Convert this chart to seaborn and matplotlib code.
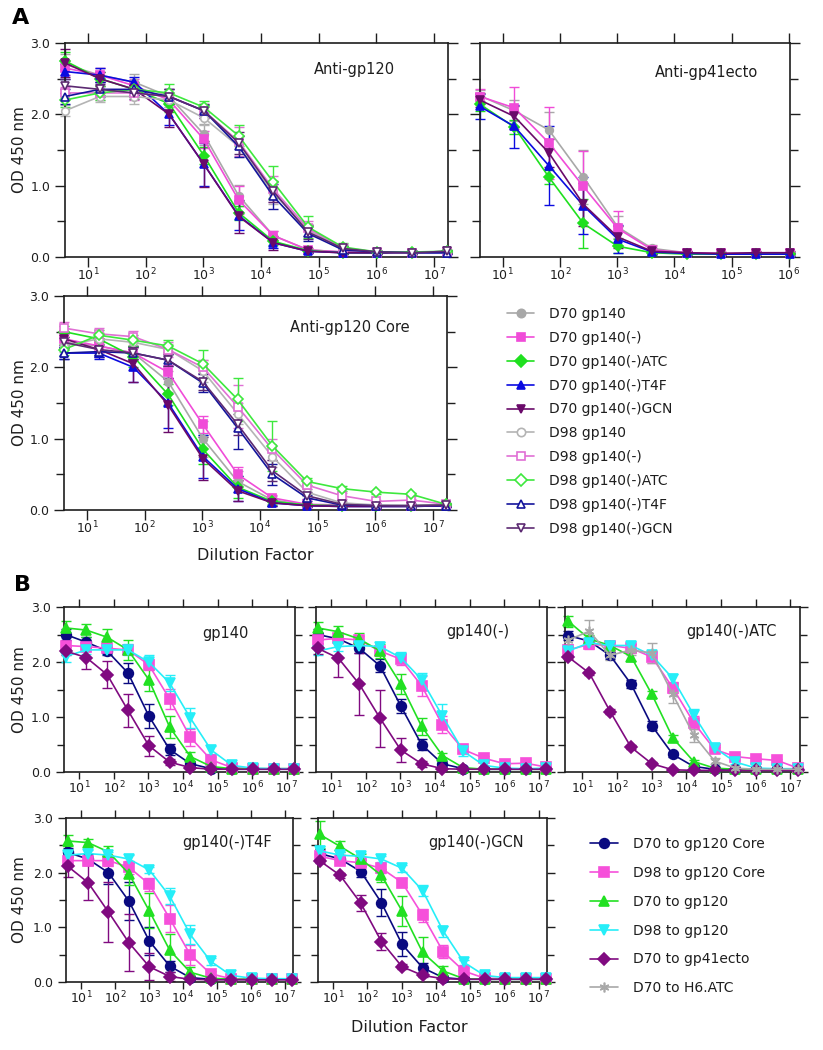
import matplotlib.pyplot as plt
import seaborn as sns
from matplotlib.lines import Line2D
from matplotlib.ticker import (FixedLocator, FormatStrFormatter, LogFormatterSciNotation,
                               MultipleLocator, NullLocator)

# dilution factors (4-fold series)
DILUTION = [4, 16, 64, 256, 1024, 4096, 16384, 65536, 262144, 1048576, 4194304, 16777216]
DILUTION_GP41 = [4, 16, 64, 256, 1024, 4096, 16384, 65536, 262144, 1048576]
DECADES = [1e1, 1e2, 1e3, 1e4, 1e5, 1e6, 1e7]
DECADES_GP41 = [1e1, 1e2, 1e3, 1e4, 1e5, 1e6]

# ---- panel A series ----
A_LABELS = ["D70 gp140", "D70 gp140(-)", "D70 gp140(-)ATC", "D70 gp140(-)T4F", "D70 gp140(-)GCN",
            "D98 gp140", "D98 gp140(-)", "D98 gp140(-)ATC", "D98 gp140(-)T4F", "D98 gp140(-)GCN"]
A_COLORS = ["#a8a8a8", "#f04cd8", "#1fe01f", "#0b0be0", "#6a0a6a",
            "#b4b4b4", "#e070d4", "#3ee83e", "#14149c", "#5c2a72"]
A_MARKERS = ["o", "s", "D", "^", "v", "o", "s", "D", "^", "v"]
A_FILLED = [True, True, True, True, True, False, False, False, False, False]

ANTI_GP120 = {
    "D70 gp140":       [2.70, 2.55, 2.45, 2.25, 1.72, 0.86, 0.30, 0.10, 0.07, 0.06, 0.06, 0.07],
    "D70 gp140(-)":    [2.65, 2.55, 2.40, 2.20, 1.65, 0.80, 0.30, 0.10, 0.07, 0.06, 0.06, 0.07],
    "D70 gp140(-)ATC": [2.75, 2.50, 2.35, 2.15, 1.42, 0.62, 0.22, 0.09, 0.06, 0.06, 0.06, 0.07],
    "D70 gp140(-)T4F": [2.60, 2.55, 2.45, 2.00, 1.30, 0.58, 0.20, 0.08, 0.06, 0.06, 0.06, 0.06],
    "D70 gp140(-)GCN": [2.72, 2.50, 2.35, 2.00, 1.30, 0.57, 0.20, 0.08, 0.06, 0.06, 0.06, 0.08],
    "D98 gp140":       [2.05, 2.25, 2.25, 2.20, 1.95, 1.55, 0.90, 0.38, 0.12, 0.07, 0.06, 0.07],
    "D98 gp140(-)":    [2.30, 2.30, 2.30, 2.25, 2.05, 1.62, 0.95, 0.40, 0.13, 0.07, 0.06, 0.07],
    "D98 gp140(-)ATC": [2.20, 2.30, 2.35, 2.30, 2.10, 1.70, 1.05, 0.42, 0.14, 0.07, 0.07, 0.08],
    "D98 gp140(-)T4F": [2.25, 2.35, 2.35, 2.25, 2.05, 1.55, 0.85, 0.33, 0.10, 0.07, 0.06, 0.06],
    "D98 gp140(-)GCN": [2.40, 2.35, 2.30, 2.25, 2.05, 1.60, 0.92, 0.35, 0.12, 0.07, 0.06, 0.08],
}
ANTI_GP120_ERR = {
    "D70 gp140":       [0.15, 0.10, 0.12, 0.10, 0.15, 0.15, 0.06, 0.03, 0.02, 0.02, 0.02, 0.02],
    "D70 gp140(-)":    [0.10, 0.10, 0.10, 0.10, 0.12, 0.20, 0.06, 0.03, 0.02, 0.02, 0.02, 0.02],
    "D70 gp140(-)ATC": [0.12, 0.10, 0.10, 0.12, 0.12, 0.10, 0.05, 0.02, 0.02, 0.02, 0.02, 0.02],
    "D70 gp140(-)T4F": [0.10, 0.10, 0.08, 0.15, 0.30, 0.20, 0.08, 0.02, 0.02, 0.02, 0.02, 0.02],
    "D70 gp140(-)GCN": [0.20, 0.10, 0.08, 0.18, 0.32, 0.23, 0.10, 0.02, 0.02, 0.02, 0.02, 0.02],
    "D98 gp140":       [0.08, 0.08, 0.10, 0.10, 0.10, 0.15, 0.15, 0.08, 0.05, 0.02, 0.02, 0.02],
    "D98 gp140(-)":    [0.08, 0.10, 0.10, 0.10, 0.10, 0.20, 0.18, 0.10, 0.05, 0.02, 0.02, 0.02],
    "D98 gp140(-)ATC": [0.10, 0.10, 0.10, 0.12, 0.08, 0.15, 0.22, 0.15, 0.05, 0.02, 0.02, 0.02],
    "D98 gp140(-)T4F": [0.10, 0.10, 0.08, 0.10, 0.08, 0.15, 0.18, 0.10, 0.05, 0.02, 0.02, 0.02],
    "D98 gp140(-)GCN": [0.10, 0.08, 0.08, 0.10, 0.10, 0.15, 0.15, 0.10, 0.04, 0.02, 0.02, 0.02],
}

ANTI_GP41 = {
    "D70 gp140":       [2.26, 2.05, 1.78, 1.12, 0.42, 0.12, 0.06, 0.05, 0.05, 0.05],
    "D70 gp140(-)":    [2.25, 2.09, 1.60, 0.99, 0.40, 0.10, 0.06, 0.05, 0.05, 0.05],
    "D70 gp140(-)ATC": [2.14, 1.82, 1.12, 0.47, 0.15, 0.06, 0.04, 0.04, 0.04, 0.04],
    "D70 gp140(-)T4F": [2.11, 1.83, 1.28, 0.72, 0.25, 0.07, 0.05, 0.04, 0.04, 0.04],
    "D70 gp140(-)GCN": [2.20, 1.97, 1.46, 0.74, 0.28, 0.08, 0.06, 0.05, 0.06, 0.06],
}
ANTI_GP41_ERR = {
    "D70 gp140":       [0.08, 0.15, 0.25, 0.38, 0.15, 0.05, 0.02, 0.02, 0.02, 0.02],
    "D70 gp140(-)":    [0.10, 0.30, 0.50, 0.50, 0.25, 0.05, 0.02, 0.02, 0.02, 0.02],
    "D70 gp140(-)ATC": [0.10, 0.10, 0.10, 0.35, 0.10, 0.03, 0.02, 0.02, 0.02, 0.02],
    "D70 gp140(-)T4F": [0.17, 0.30, 0.55, 0.40, 0.20, 0.03, 0.02, 0.02, 0.02, 0.02],
    "D70 gp140(-)GCN": [0.10, 0.15, 0.20, 0.30, 0.15, 0.04, 0.02, 0.02, 0.02, 0.02],
}

ANTI_CORE = {
    "D70 gp140":       [2.35, 2.30, 2.20, 1.80, 1.00, 0.40, 0.14, 0.07, 0.06, 0.06, 0.06, 0.07],
    "D70 gp140(-)":    [2.40, 2.30, 2.20, 1.93, 1.20, 0.50, 0.17, 0.08, 0.07, 0.06, 0.06, 0.07],
    "D70 gp140(-)ATC": [2.50, 2.40, 2.15, 1.62, 0.85, 0.32, 0.12, 0.07, 0.06, 0.06, 0.06, 0.07],
    "D70 gp140(-)T4F": [2.20, 2.20, 2.00, 1.50, 0.75, 0.30, 0.10, 0.06, 0.05, 0.05, 0.05, 0.06],
    "D70 gp140(-)GCN": [2.40, 2.25, 2.05, 1.47, 0.72, 0.27, 0.10, 0.06, 0.05, 0.05, 0.05, 0.06],
    "D98 gp140":       [2.30, 2.40, 2.35, 2.25, 1.95, 1.35, 0.75, 0.25, 0.10, 0.07, 0.06, 0.07],
    "D98 gp140(-)":    [2.55, 2.47, 2.43, 2.25, 2.00, 1.45, 0.85, 0.35, 0.20, 0.12, 0.14, 0.08],
    "D98 gp140(-)ATC": [2.25, 2.45, 2.38, 2.30, 2.05, 1.55, 0.90, 0.40, 0.30, 0.25, 0.22, 0.08],
    "D98 gp140(-)T4F": [2.20, 2.22, 2.20, 2.10, 1.78, 1.15, 0.50, 0.17, 0.07, 0.06, 0.06, 0.06],
    "D98 gp140(-)GCN": [2.35, 2.25, 2.20, 2.10, 1.80, 1.20, 0.55, 0.20, 0.08, 0.06, 0.06, 0.07],
}
ANTI_CORE_ERR = {
    "D70 gp140":       [0.08, 0.10, 0.10, 0.15, 0.25, 0.15, 0.05, 0.02, 0.02, 0.02, 0.02, 0.02],
    "D70 gp140(-)":    [0.08, 0.08, 0.10, 0.10, 0.12, 0.10, 0.04, 0.02, 0.02, 0.02, 0.02, 0.02],
    "D70 gp140(-)ATC": [0.08, 0.08, 0.15, 0.15, 0.20, 0.15, 0.05, 0.02, 0.02, 0.02, 0.02, 0.02],
    "D70 gp140(-)T4F": [0.08, 0.08, 0.20, 0.35, 0.30, 0.18, 0.05, 0.02, 0.02, 0.02, 0.02, 0.02],
    "D70 gp140(-)GCN": [0.08, 0.10, 0.25, 0.38, 0.30, 0.15, 0.04, 0.02, 0.02, 0.02, 0.02, 0.02],
    "D98 gp140":       [0.08, 0.08, 0.08, 0.08, 0.15, 0.15, 0.15, 0.05, 0.02, 0.02, 0.02, 0.02],
    "D98 gp140(-)":    [0.08, 0.08, 0.08, 0.10, 0.10, 0.30, 0.15, 0.06, 0.04, 0.02, 0.02, 0.02],
    "D98 gp140(-)ATC": [0.08, 0.08, 0.08, 0.08, 0.20, 0.30, 0.35, 0.05, 0.04, 0.02, 0.02, 0.02],
    "D98 gp140(-)T4F": [0.08, 0.08, 0.08, 0.08, 0.12, 0.30, 0.15, 0.04, 0.02, 0.02, 0.02, 0.02],
    "D98 gp140(-)GCN": [0.08, 0.08, 0.08, 0.08, 0.12, 0.15, 0.15, 0.05, 0.02, 0.02, 0.02, 0.02],
}

# ---- panel B series ----
B_LABELS = ["D70 to gp120 Core", "D98 to gp120 Core", "D70 to gp120",
            "D98 to gp120", "D70 to gp41ecto", "D70 to H6.ATC"]
B_COLORS = ["#0a0a80", "#f650da", "#22e022", "#26eef8", "#800a80", "#a8a8a8"]
B_MARKERS = ["o", "s", "^", "v", "D", (6, 2, 0)]
B_TITLES = ["gp140", "gp140(-)", "gp140(-)ATC", "gp140(-)T4F", "gp140(-)GCN"]

B_GP140 = {
    "D70 to gp120 Core": [2.50, 2.36, 2.20, 1.80, 1.02, 0.41, 0.15, 0.06, 0.05, 0.05, 0.05, 0.05],
    "D98 to gp120 Core": [2.30, 2.28, 2.25, 2.22, 1.95, 1.33, 0.63, 0.22, 0.08, 0.06, 0.06, 0.06],
    "D70 to gp120":      [2.62, 2.58, 2.45, 2.22, 1.68, 0.82, 0.28, 0.10, 0.06, 0.06, 0.06, 0.06],
    "D98 to gp120":      [2.10, 2.22, 2.22, 2.22, 2.00, 1.62, 0.98, 0.40, 0.12, 0.07, 0.06, 0.06],
    "D70 to gp41ecto":   [2.20, 2.08, 1.77, 1.12, 0.48, 0.18, 0.08, 0.05, 0.05, 0.05, 0.05, 0.05],
}
B_GP140_ERR = {
    "D70 to gp120 Core": [0.10, 0.10, 0.08, 0.18, 0.22, 0.10, 0.05, 0.02, 0.02, 0.02, 0.02, 0.02],
    "D98 to gp120 Core": [0.08, 0.08, 0.08, 0.08, 0.10, 0.18, 0.15, 0.05, 0.02, 0.02, 0.02, 0.02],
    "D70 to gp120":      [0.12, 0.12, 0.15, 0.18, 0.20, 0.20, 0.08, 0.03, 0.02, 0.02, 0.02, 0.02],
    "D98 to gp120":      [0.10, 0.08, 0.08, 0.10, 0.12, 0.15, 0.18, 0.08, 0.04, 0.02, 0.02, 0.02],
    "D70 to gp41ecto":   [0.08, 0.20, 0.25, 0.30, 0.18, 0.05, 0.02, 0.02, 0.02, 0.02, 0.02, 0.02],
}

B_GP140M = {
    "D70 to gp120 Core": [2.50, 2.42, 2.25, 1.93, 1.20, 0.50, 0.15, 0.06, 0.05, 0.05, 0.05, 0.05],
    "D98 to gp120 Core": [2.40, 2.43, 2.40, 2.20, 2.05, 1.57, 0.86, 0.41, 0.25, 0.15, 0.16, 0.09],
    "D70 to gp120":      [2.62, 2.55, 2.42, 2.20, 1.60, 0.83, 0.30, 0.08, 0.05, 0.05, 0.05, 0.05],
    "D98 to gp120":      [2.20, 2.28, 2.30, 2.28, 2.08, 1.68, 1.02, 0.38, 0.12, 0.07, 0.06, 0.07],
    "D70 to gp41ecto":   [2.25, 2.07, 1.60, 0.98, 0.40, 0.15, 0.06, 0.05, 0.05, 0.05, 0.05, 0.05],
}
B_GP140M_ERR = {
    "D70 to gp120 Core": [0.10, 0.08, 0.08, 0.12, 0.12, 0.10, 0.05, 0.02, 0.02, 0.02, 0.02, 0.02],
    "D98 to gp120 Core": [0.08, 0.08, 0.08, 0.08, 0.10, 0.18, 0.15, 0.06, 0.04, 0.02, 0.02, 0.02],
    "D70 to gp120":      [0.10, 0.10, 0.10, 0.12, 0.18, 0.15, 0.05, 0.02, 0.02, 0.02, 0.02, 0.02],
    "D98 to gp120":      [0.08, 0.08, 0.08, 0.08, 0.10, 0.12, 0.22, 0.08, 0.04, 0.02, 0.02, 0.02],
    "D70 to gp41ecto":   [0.10, 0.35, 0.57, 0.52, 0.22, 0.05, 0.02, 0.02, 0.02, 0.02, 0.02, 0.02],
}

B_ATC = {
    "D70 to gp120 Core": [2.48, 2.38, 2.12, 1.60, 0.84, 0.32, 0.10, 0.05, 0.05, 0.05, 0.05, 0.05],
    "D98 to gp120 Core": [2.22, 2.32, 2.30, 2.25, 2.09, 1.53, 0.90, 0.41, 0.28, 0.24, 0.21, 0.07],
    "D70 to gp120":      [2.74, 2.42, 2.30, 2.10, 1.41, 0.62, 0.19, 0.07, 0.05, 0.05, 0.05, 0.05],
    "D98 to gp120":      [2.20, 2.35, 2.30, 2.30, 2.12, 1.70, 1.04, 0.44, 0.18, 0.07, 0.06, 0.06],
    "D70 to gp41ecto":   [2.09, 1.80, 1.10, 0.45, 0.15, 0.04, 0.03, 0.03, 0.03, 0.03, 0.03, 0.03],
    "D70 to H6.ATC":     [2.40, 2.56, 2.12, 2.22, 2.16, 1.41, 0.67, 0.20, 0.07, 0.05, 0.05, 0.05],
}
B_ATC_ERR = {
    "D70 to gp120 Core": [0.08, 0.06, 0.06, 0.08, 0.08, 0.05, 0.03, 0.02, 0.02, 0.02, 0.02, 0.02],
    "D98 to gp120 Core": [0.08, 0.08, 0.06, 0.08, 0.10, 0.10, 0.12, 0.05, 0.04, 0.02, 0.02, 0.02],
    "D70 to gp120":      [0.10, 0.08, 0.06, 0.08, 0.06, 0.05, 0.03, 0.02, 0.02, 0.02, 0.02, 0.02],
    "D98 to gp120":      [0.08, 0.08, 0.06, 0.08, 0.08, 0.08, 0.10, 0.05, 0.03, 0.02, 0.02, 0.02],
    "D70 to gp41ecto":   [0.04, 0.04, 0.04, 0.04, 0.03, 0.02, 0.02, 0.02, 0.02, 0.02, 0.02, 0.02],
    "D70 to H6.ATC":     [0.08, 0.20, 0.08, 0.10, 0.18, 0.15, 0.12, 0.05, 0.03, 0.02, 0.02, 0.02],
}

B_T4F = {
    "D70 to gp120 Core": [2.37, 2.25, 2.00, 1.48, 0.75, 0.29, 0.08, 0.05, 0.05, 0.05, 0.05, 0.05],
    "D98 to gp120 Core": [2.22, 2.22, 2.22, 2.10, 1.79, 1.16, 0.50, 0.15, 0.06, 0.05, 0.05, 0.05],
    "D70 to gp120":      [2.58, 2.55, 2.38, 1.98, 1.30, 0.58, 0.18, 0.07, 0.05, 0.05, 0.05, 0.05],
    "D98 to gp120":      [2.32, 2.35, 2.32, 2.25, 2.05, 1.57, 0.87, 0.38, 0.12, 0.07, 0.06, 0.06],
    "D70 to gp41ecto":   [2.12, 1.82, 1.28, 0.72, 0.28, 0.10, 0.05, 0.04, 0.04, 0.04, 0.04, 0.04],
}
B_T4F_ERR = {
    "D70 to gp120 Core": [0.08, 0.10, 0.20, 0.35, 0.25, 0.10, 0.03, 0.02, 0.02, 0.02, 0.02, 0.02],
    "D98 to gp120 Core": [0.08, 0.08, 0.10, 0.12, 0.12, 0.25, 0.18, 0.05, 0.02, 0.02, 0.02, 0.02],
    "D70 to gp120":      [0.10, 0.06, 0.10, 0.20, 0.32, 0.30, 0.10, 0.03, 0.02, 0.02, 0.02, 0.02],
    "D98 to gp120":      [0.08, 0.06, 0.06, 0.08, 0.06, 0.15, 0.18, 0.06, 0.03, 0.02, 0.02, 0.02],
    "D70 to gp41ecto":   [0.20, 0.32, 0.55, 0.52, 0.25, 0.08, 0.02, 0.02, 0.02, 0.02, 0.02, 0.02],
}

B_GCN = {
    "D70 to gp120 Core": [2.35, 2.25, 2.02, 1.45, 0.69, 0.26, 0.08, 0.05, 0.05, 0.05, 0.05, 0.05],
    "D98 to gp120 Core": [2.30, 2.22, 2.18, 2.08, 1.82, 1.22, 0.55, 0.20, 0.07, 0.06, 0.06, 0.06],
    "D70 to gp120":      [2.70, 2.48, 2.25, 1.95, 1.30, 0.54, 0.20, 0.06, 0.05, 0.05, 0.05, 0.05],
    "D98 to gp120":      [2.40, 2.32, 2.30, 2.25, 2.08, 1.67, 0.93, 0.36, 0.12, 0.08, 0.08, 0.08],
    "D70 to gp41ecto":   [2.22, 1.95, 1.44, 0.74, 0.28, 0.12, 0.06, 0.05, 0.05, 0.05, 0.05, 0.05],
}
B_GCN_ERR = {
    "D70 to gp120 Core": [0.08, 0.08, 0.10, 0.25, 0.22, 0.08, 0.03, 0.02, 0.02, 0.02, 0.02, 0.02],
    "D98 to gp120 Core": [0.08, 0.06, 0.06, 0.08, 0.08, 0.12, 0.12, 0.05, 0.02, 0.02, 0.02, 0.02],
    "D70 to gp120":      [0.25, 0.10, 0.10, 0.12, 0.28, 0.28, 0.10, 0.03, 0.02, 0.02, 0.02, 0.02],
    "D98 to gp120":      [0.08, 0.06, 0.06, 0.06, 0.06, 0.10, 0.10, 0.05, 0.03, 0.02, 0.02, 0.02],
    "D70 to gp41ecto":   [0.05, 0.05, 0.15, 0.15, 0.05, 0.03, 0.02, 0.02, 0.02, 0.02, 0.02, 0.02],
}

INK = "#1e1e1e"


def style_axis(ax, xlim, decades, show_ylabels, major_len, bottom_len, pad):
    ax.set_xscale("log")
    ax.set_xlim(*xlim)
    ax.set_ylim(0, 3.0)
    ax.xaxis.set_major_locator(FixedLocator(decades))
    ax.xaxis.set_major_formatter(LogFormatterSciNotation())
    ax.xaxis.set_minor_locator(NullLocator())
    ax.yaxis.set_major_locator(MultipleLocator(1.0))
    ax.yaxis.set_minor_locator(MultipleLocator(0.5))
    ax.yaxis.set_major_formatter(FormatStrFormatter("%.1f"))
    ax.tick_params(axis="both", which="both", direction="out", top=True, right=True,
                   labelsize=9, width=1.0, color=INK, labelcolor=INK)
    ax.tick_params(axis="both", which="major", length=major_len)
    ax.tick_params(axis="y", which="minor", length=major_len - 1)
    ax.tick_params(axis="x", which="major", length=bottom_len, pad=pad)
    ax.tick_params(axis="y", labelleft=show_ylabels)
    # top ticks are a little longer than the bottom ones
    for tick in ax.xaxis.get_major_ticks():
        tick.tick2line.set_markersize(major_len)
    ax.set_xlabel("")
    ax.set_ylabel("")
    for spine in ax.spines.values():
        spine.set_visible(True)
        spine.set_linewidth(1.2)
        spine.set_color(INK)


def draw_series(ax, x, y, err, color, marker, filled, ms):
    ax.errorbar(x, y, yerr=err, fmt="none", ecolor=color, elinewidth=1.0,
                capsize=3.5, capthick=1.0, zorder=2, clip_on=False)
    sns.lineplot(x=x, y=y, ax=ax, color=color, marker=marker, markersize=ms,
                 markerfacecolor=color if filled else "white", markeredgecolor=color,
                 markeredgewidth=1.2, linewidth=1.2, legend=False, zorder=3, clip_on=False)


def main() -> None:
    sns.set_theme(style="ticks")
    plt.rcParams["font.family"] = ["DejaVu Sans"]
    plt.rcParams["mathtext.fontset"] = "dejavusans"

    W, H = 823, 1050
    fig = plt.figure(figsize=(W / 100, H / 100), dpi=100)

    def box(x0, x1, y0, y1):
        return [x0 / W, 1 - y1 / H, (x1 - x0) / W, (y1 - y0) / H]

    # ---------------- panel A ----------------
    a_panels = [
        (box(65, 448, 43, 257), ANTI_GP120, ANTI_GP120_ERR, DILUTION, (4.0, 1.75e7), DECADES,
         True, "Anti-gp120", (0.755, 0.875)),
        (box(480, 790, 43, 257), ANTI_GP41, ANTI_GP41_ERR, DILUTION_GP41, (4.0, 1.05e6),
         DECADES_GP41, False, "Anti-gp41ecto", (0.73, 0.86)),
        (box(64, 447, 296, 510), ANTI_CORE, ANTI_CORE_ERR, DILUTION, (4.0, 1.75e7), DECADES,
         True, "Anti-gp120 Core", (0.745, 0.855)),
    ]
    for rect, values, errors, xs, xlim, decades, labels, title, tpos in a_panels:
        ax = fig.add_axes(rect)
        for label, color, marker, filled in zip(A_LABELS, A_COLORS, A_MARKERS, A_FILLED):
            if label in values:
                draw_series(ax, xs, values[label], errors[label], color, marker, filled, 5.5)
        style_axis(ax, xlim, decades, labels, major_len=7, bottom_len=7, pad=0)
        ax.text(tpos[0], tpos[1], title, transform=ax.transAxes, ha="center", va="center",
                fontsize=10.5, color=INK)

    a_handles = [
        Line2D([0], [0], color=c, marker=m, markersize=6, lw=1.2, markeredgewidth=1.2,
               markerfacecolor=c if f else "white", markeredgecolor=c)
        for c, m, f in zip(A_COLORS, A_MARKERS, A_FILLED)
    ]
    fig.legend(a_handles, A_LABELS, loc="upper left", bbox_to_anchor=(507 / W, 1 - 307 / H),
               frameon=False, fontsize=10, handlelength=1.95, handletextpad=1.1,
               labelspacing=0.71, borderpad=0, borderaxespad=0, labelcolor=INK)

    # ---------------- panel B ----------------
    b_panels = [
        (box(64, 295, 607, 772), B_GP140, B_GP140_ERR, (3.6, 1.75e7), True, (0.70, 0.84)),
        (box(316, 547, 607, 772), B_GP140M, B_GP140M_ERR, (3.6, 1.75e7), False, (0.70, 0.85)),
        (box(565, 800, 607, 772), B_ATC, B_ATC_ERR, (3.2, 1.9e7), False, (0.71, 0.85)),
        (box(66, 293, 818, 982), B_T4F, B_T4F_ERR, (3.6, 1.75e7), True, (0.71, 0.85)),
        (box(318, 547, 818, 982), B_GCN, B_GCN_ERR, (3.6, 1.75e7), False, (0.69, 0.85)),
    ]
    for (rect, values, errors, xlim, labels, tpos), title in zip(b_panels, B_TITLES):
        ax = fig.add_axes(rect)
        for label, color, marker in zip(B_LABELS, B_COLORS, B_MARKERS):
            if label in values:
                ms = 6.0 if marker == "D" else 7.0
                draw_series(ax, DILUTION, values[label], errors[label], color, marker, True, ms)
        style_axis(ax, xlim, DECADES, labels, major_len=6, bottom_len=5, pad=0.5)
        ax.text(tpos[0], tpos[1], title, transform=ax.transAxes, ha="center", va="center",
                fontsize=10.5, color=INK)

    b_handles = [
        Line2D([0], [0], color=c, marker=m, markersize=7 if m != "D" else 6, lw=1.2,
               markeredgewidth=1.2, markerfacecolor=c, markeredgecolor=c)
        for c, m in zip(B_COLORS, B_MARKERS)
    ]
    fig.legend(b_handles, B_LABELS, loc="upper left", bbox_to_anchor=(590 / W, 1 - 837 / H),
               frameon=False, fontsize=10, handlelength=2.0, handletextpad=1.1,
               labelspacing=1.07, borderpad=0, borderaxespad=0, labelcolor=INK)

    # ---------------- shared labels ----------------
    for yc in (150, 403, 690, 900):
        fig.text(20 / W, 1 - yc / H, "OD 450 nm", rotation=90, ha="center", va="center",
                 fontsize=11, color=INK)
    fig.text(255 / W, 1 - 556 / H, "Dilution Factor", ha="center", va="center",
             fontsize=11.5, color=INK)
    fig.text(409 / W, 1 - 1027 / H, "Dilution Factor", ha="center", va="center",
             fontsize=11.5, color=INK)
    fig.text(21 / W, 1 - 18 / H, "A", ha="center", va="center", fontsize=16,
             fontweight="bold", color="black")
    fig.text(22 / W, 1 - 585 / H, "B", ha="center", va="center", fontsize=16,
             fontweight="bold", color="black")

    fig.savefig("out.png", dpi=100)
    plt.close(fig)


if __name__ == "__main__":
    main()
